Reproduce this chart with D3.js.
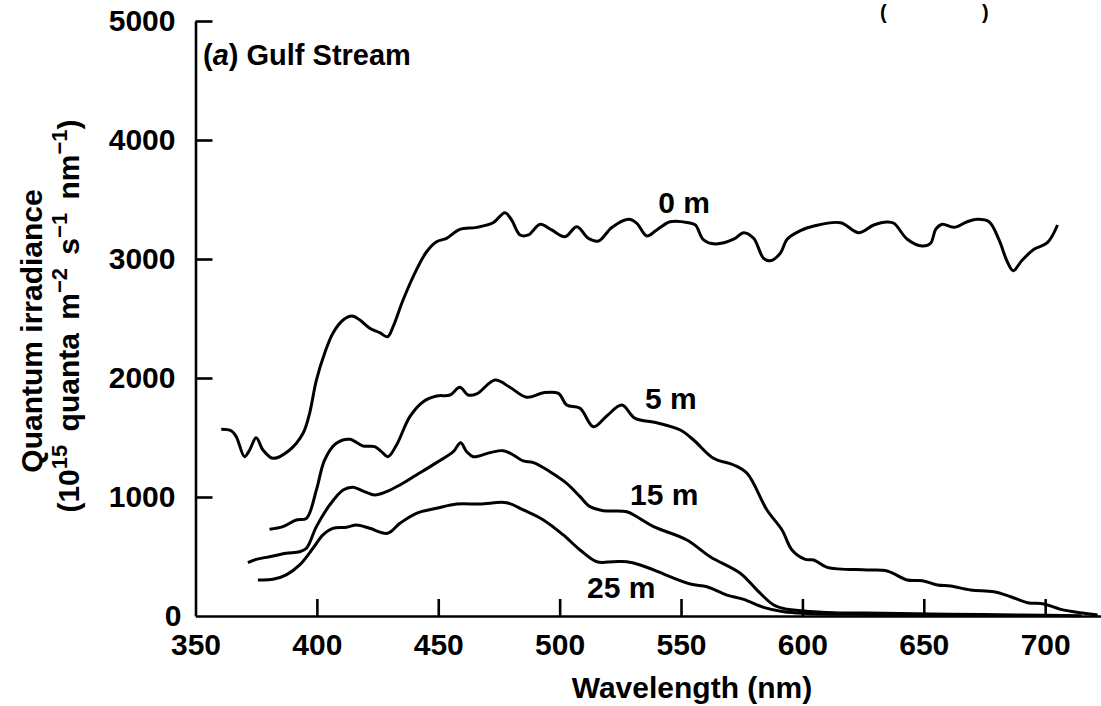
<!DOCTYPE html>
<html lang="en">
<head>
<meta charset="utf-8">
<title>Gulf Stream quantum irradiance</title>
<script src="https://d3js.org/d3.v7.min.js"></script>
<style>
  body { margin: 0; background: #fff; }
  svg text { font-family: "Liberation Sans", Arial, sans-serif; font-weight: bold; fill: #000; }
</style>
</head>
<body>
<chart></chart>
<script>
// wavelength (nm), irradiance (10^15 quanta m-2 s-1 nm-1)
const depth0 = [[360.6,1569],[364.7,1557],[366.8,1507],[370.2,1339],[372.3,1395],[375,1498],[377.8,1395],[381.9,1325],[388.8,1395],[394.3,1535],[397,1703],[399.8,1983],[403.2,2208],[406.6,2376],[410.8,2487],[414.5,2521],[417.7,2487],[421.8,2418],[425.9,2381],[429.1,2347],[431.4,2431],[435.5,2655],[441,2908],[445.2,3061],[449.3,3145],[453.4,3174],[458.9,3249],[465.8,3266],[472.6,3305],[477.5,3389],[480.2,3328],[483.7,3202],[487.1,3202],[492,3292],[496.7,3244],[502.2,3187],[507.1,3271],[511.8,3174],[516,3151],[521.5,3265],[528.5,3333],[531.8,3300],[535.9,3193],[540,3244],[545.5,3313],[553.1,3305],[555.9,3286],[559.3,3160],[564.1,3126],[571.7,3166],[575.8,3221],[579.9,3174],[584,3006],[586.8,2986],[590.9,3048],[593.7,3166],[599.2,3238],[604.7,3277],[615.7,3305],[623.2,3221],[629.4,3286],[634.9,3311],[637.7,3300],[643.2,3166],[649.4,3109],[652.8,3132],[654.9,3249],[657.6,3292],[662.4,3266],[667.9,3313],[672,3333],[676.9,3313],[681,3160],[684.4,2977],[686.8,2902],[690.6,2992],[695.4,3081],[700.9,3137],[705.1,3286]];
const depth5 = [[380.5,729],[386,751],[391.5,807],[395.7,821],[399.8,1059],[403.2,1311],[408,1451],[413.5,1485],[419,1429],[423.8,1423],[426.6,1381],[429.3,1339],[432.8,1437],[438.3,1675],[443.8,1801],[449.3,1849],[454.8,1857],[458.9,1922],[462.3,1857],[465.8,1866],[473.4,1983],[479.5,1922],[486.4,1838],[493.3,1876],[499.5,1871],[502.9,1773],[508.4,1745],[513.9,1591],[519.4,1681],[525.6,1773],[531.1,1661],[540,1624],[549.7,1563],[555.2,1479],[563.4,1325],[571.7,1269],[577.2,1199],[585.4,891],[591.6,723],[595.7,555],[601.2,476],[604.7,471],[610.2,409],[626.7,387],[634.9,378],[643.2,303],[649.4,297],[655.6,261],[661.1,252],[669.3,218],[678.9,204],[685.8,162],[692.7,112],[699.5,101],[706.4,56],[716,23],[721.6,8]];
const depth15 = [[371.6,448],[375,476],[380.5,498],[387.4,527],[392.9,540],[395.7,569],[399.8,751],[405.3,933],[410.8,1059],[414.9,1082],[419,1050],[423.8,1017],[428.7,1045],[434.2,1101],[441,1185],[449.3,1289],[456.2,1381],[459.2,1456],[461.7,1381],[464.4,1339],[471.3,1373],[476.8,1389],[480.9,1353],[485,1303],[489.2,1289],[496,1213],[502.9,1115],[508.4,1003],[512.5,919],[518,885],[527.7,876],[531.8,834],[538.7,751],[552.4,639],[562,498],[574.4,359],[581.3,218],[588.2,92],[593.7,56],[599.2,45],[612.9,28],[633.5,23],[660,15],[690,8],[715,2]];
const depth25 = [[375.7,303],[381.9,308],[387.4,345],[392.9,429],[398.4,569],[402.5,681],[406.6,737],[412.2,745],[416.3,765],[421.8,737],[429.1,695],[434.2,779],[441,863],[449.3,905],[457.6,941],[467.2,941],[478.2,952],[485,891],[493.3,807],[501.5,681],[508.4,555],[515.3,456],[522.2,456],[527.7,456],[533.2,429],[538.7,387],[553.8,269],[560.7,246],[568.9,176],[575.8,140],[584,73],[592.3,36],[601.9,22],[620,14],[650,9],[680,5]];

const seriesNames = ["0 m", "5 m", "15 m", "25 m"];
// where each depth label sits: [wavelength, irradiance] of its baseline start
const labelAt = [[540.6,3387],[535.2,1739],[529,933],[511.3,151]];

const xTicks = [350, 400, 450, 500, 550, 600, 650, 700];
const yTicks = [0, 1000, 2000, 3000, 4000, 5000];

const W = 1101, H = 706;

var svg = d3.select("chart").append("svg")
  .attr("width", W).attr("height", H);

// scales
var x = d3.scaleLinear().domain([350, 723]).range([195.5, 1101]);
var y = d3.scaleLinear().domain([0, 5000]).range([616, 21]);

// x axis
var xAxis = svg.append("g")
  .attr("transform", "translate(0," + y(0) + ")")
  .call(d3.axisBottom(x).tickValues(xTicks).tickFormat(d3.format("d"))
    .tickSizeInner(-17).tickSizeOuter(0).tickPadding(18));

// y axis
var yAxis = svg.append("g")
  .attr("transform", "translate(" + x(350) + ",0)")
  .call(d3.axisLeft(y).tickValues(yTicks).tickFormat(d3.format("d"))
    .tickSizeInner(-17).tickSizeOuter(0).tickPadding(20));

[xAxis, yAxis].forEach(function (g) {
  g.select(".domain").attr("stroke", "#000").attr("stroke-width", 2.6);
  g.selectAll(".tick line").attr("stroke", "#000").attr("stroke-width", 2.6);
  g.selectAll(".tick text").attr("font-size", 30).attr("font-family", null);
  g.attr("font-family", null);
});
xAxis.selectAll(".tick").filter(d => d === 350).select("line").remove();
yAxis.selectAll(".tick").filter(d => d === 0).select("line").remove();
yAxis.selectAll(".tick").filter(d => d === 0).select("text").attr("x", -14);

// curves
var line = d3.line()
  .x(d => x(d[0]))
  .y(d => y(d[1]))
  .curve(d3.curveCatmullRom.alpha(0.5));

[depth0, depth5, depth15, depth25].forEach(function (s) {
  svg.append("path")
    .datum(s)
    .attr("d", line)
    .attr("fill", "none")
    .attr("stroke", "#000")
    .attr("stroke-width", 3)
    .attr("stroke-linejoin", "round");
});

// depth labels
svg.selectAll(".depth-label")
  .data(seriesNames)
  .enter().append("text")
  .attr("class", "depth-label")
  .attr("x", (d, i) => x(labelAt[i][0]))
  .attr("y", (d, i) => y(labelAt[i][1]))
  .attr("font-size", 30)
  .text(d => d);

// panel label
var panel = svg.append("text")
  .attr("x", 203).attr("y", 65)
  .attr("font-size", 29);
panel.append("tspan").text("(");
panel.append("tspan").attr("font-style", "italic").text("a");
panel.append("tspan").text(") Gulf Stream");

// axis titles
svg.append("text")
  .attr("x", 692).attr("y", 698)
  .attr("text-anchor", "middle")
  .attr("font-size", 30)
  .text("Wavelength (nm)");

svg.append("text")
  .attr("transform", "translate(42,331) rotate(-90)")
  .attr("text-anchor", "middle")
  .attr("font-size", 30)
  .text("Quantum irradiance");

var unit = svg.append("text")
  .attr("transform", "translate(79,316) rotate(-90)")
  .attr("text-anchor", "middle")
  .attr("font-size", 30)
  .attr("word-spacing", 5);
var parts = [["(10", false], ["15", true], [" quanta m", false], ["\u22122", true],
             [" s", false], ["\u22121", true], [" nm", false], ["\u22121", true], [")", false]];
parts.forEach(function (p, i) {
  var prevSup = i > 0 && parts[i - 1][1];
  var dy = p[1] ? -12 : (prevSup ? 12 : 0);
  unit.append("tspan")
    .attr("dy", dy)
    .attr("font-size", p[1] ? 22 : 30)
    .text(p[0]);
});

// bracket remnants at the top edge of the page scan
svg.append("text").attr("x", 880).attr("y", 19).attr("font-size", 20).text("(");
svg.append("text").attr("x", 982).attr("y", 19).attr("font-size", 20).text(")");
</script>
</body>
</html>
